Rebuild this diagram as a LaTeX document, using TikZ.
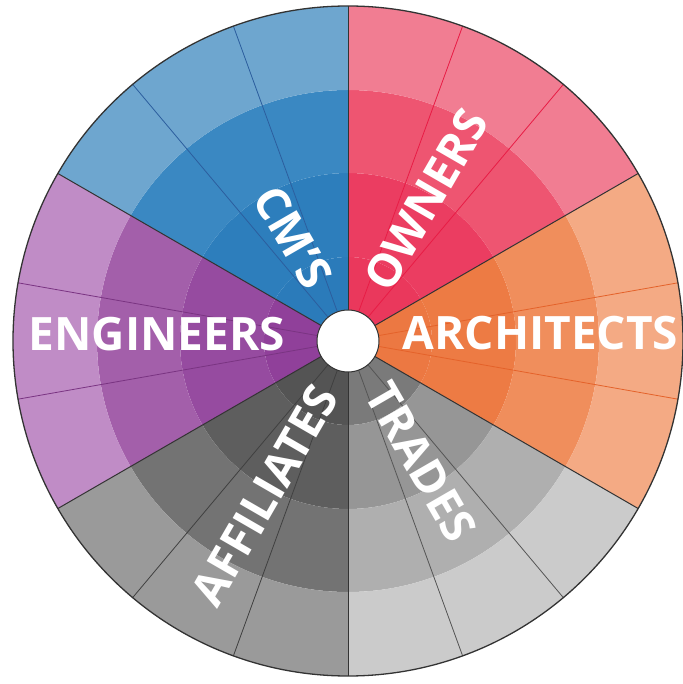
\documentclass[tikz,border=0pt]{standalone}
\usepackage{fontspec}
\setmainfont{Open Sans}
\newcommand\wseg[5]{\fill[#5] (#1:#3) arc[start angle=#1,end angle=#2,radius=#3] -- (#2:#4) arc[start angle=#2,end angle=#1,radius=#4] -- cycle;}
\newcommand\wsector[7]{%
  \wseg{#1}{#2}{31}{84}{#3}
  \wseg{#1}{#2}{84}{168}{#4}
  \wseg{#1}{#2}{168}{251}{#5}
  \wseg{#1}{#2}{251}{335}{#6}
  \draw[divline,#7] (#1+20:31) -- (#1+20:335);
  \draw[divline,#7] (#1+40:31) -- (#1+40:335);
}
\definecolor{cmA}{HTML}{2B7BBA}\definecolor{cmB}{HTML}{2D7EBC}\definecolor{cmC}{HTML}{3A88C2}\definecolor{cmD}{HTML}{6EA6CF}\definecolor{cmL}{HTML}{2C5E9E}
\definecolor{owA}{HTML}{EA385C}\definecolor{owB}{HTML}{EB3D61}\definecolor{owC}{HTML}{EE5571}\definecolor{owD}{HTML}{F17D92}\definecolor{owL}{HTML}{E81C45}
\definecolor{arA}{HTML}{EC7842}\definecolor{arB}{HTML}{ED7B44}\definecolor{arC}{HTML}{F08E5C}\definecolor{arD}{HTML}{F4AA84}\definecolor{arL}{HTML}{E4622A}
\definecolor{trA}{HTML}{7A7A7A}\definecolor{trB}{HTML}{969696}\definecolor{trC}{HTML}{AFAFAF}\definecolor{trD}{HTML}{CBCBCB}\definecolor{trL}{HTML}{555555}
\definecolor{afA}{HTML}{545454}\definecolor{afB}{HTML}{5E5E5E}\definecolor{afC}{HTML}{737373}\definecolor{afD}{HTML}{9A9A9A}\definecolor{afL}{HTML}{404040}
\definecolor{enA}{HTML}{90409A}\definecolor{enB}{HTML}{964BA0}\definecolor{enC}{HTML}{A35FAA}\definecolor{enD}{HTML}{C08CC6}\definecolor{enL}{HTML}{7A3482}
\begin{document}
\begin{tikzpicture}[x=1pt,y=1pt,
  divline/.style={line width=0.8pt},
  border/.style={draw=black!80,line width=1pt},
  lbl/.style={text=white,font=\fontsize{46}{46}\selectfont\bfseries,inner sep=0pt}]
\useasboundingbox (-348,-343) rectangle (334,341);
\wsector{90}{150}{cmA}{cmB}{cmC}{cmD}{cmL}
\wsector{30}{90}{owA}{owB}{owC}{owD}{owL}
\wsector{-30}{30}{arA}{arB}{arC}{arD}{arL}
\wsector{-90}{-30}{trA}{trB}{trC}{trD}{trL}
\wsector{-150}{-90}{afA}{afB}{afC}{afD}{afL}
\wsector{150}{210}{enA}{enB}{enC}{enD}{enL}
\foreach \a in {30,90,150,210,270,330} \draw[border] (\a:31) -- (\a:335);
\draw[border,line width=1.3pt] (0,0) circle[radius=335];
\node[circle,fill=white,draw=black!80,line width=1pt,minimum size=62pt,inner sep=0pt] (hub) at (0,0) {};
\node[lbl] (engineers) at (-191,6.5) {ENGINEERS};
\node[lbl] (architects) at (192.5,8) {ARCHITECTS};
\node[lbl,rotate=-60] (cms) at (-55,104) {CM’S};
\node[lbl,rotate=60] (owners) at (78,141) {OWNERS};
\node[lbl,rotate=-60] (trades) at (73,-121) {TRADES};
\node[lbl,rotate=60] (affiliates) at (-83,-154) {AFFILIATES};
\end{tikzpicture}
\end{document}
